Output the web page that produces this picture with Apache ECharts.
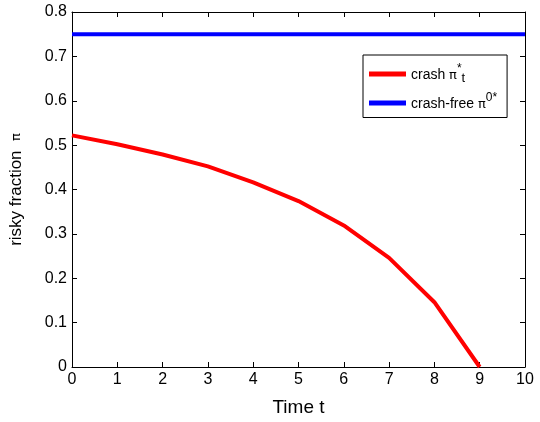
<!DOCTYPE html>
<html>
<head>
<meta charset="utf-8">
<script src="https://cdn.jsdelivr.net/npm/echarts@6/dist/echarts.min.js"></script>
<style>html,body{margin:0;padding:0;background:#fff}#c{width:540px;height:422px}</style>
</head>
<body>
<div id="c"></div>
<script>
var timeT = [0, 1, 2, 3, 4, 5, 6, 7, 8, 9];
var crashPi = [0.522, 0.502, 0.479, 0.452, 0.416, 0.374, 0.319, 0.246, 0.146, 0.0];
var freeT = [0, 10];
var freePi = [0.75, 0.75];
var seriesNames = ['crash', 'crash-free'];

var F = 'Liberation Sans, Arial, Helvetica, sans-serif';
var chart = echarts.init(document.getElementById('c'), null, {renderer: 'canvas'});

function pairs(xs, ys) { return xs.map(function (x, i) { return [x, ys[i]]; }); }

var axLine = {show: true, onZero: false, lineStyle: {color: '#000', width: 1}};
var tick = {show: true, inside: true, length: 5, lineStyle: {color: '#000', width: 1}};

chart.setOption({
  animation: false,
  backgroundColor: '#fff',
  grid: {left: 72, right: 15, top: 12, bottom: 52, containLabel: false},
  xAxis: [{
    type: 'value', min: 0, max: 10, interval: 1, position: 'bottom',
    name: 'Time t', nameLocation: 'middle', nameGap: 31,
    nameTextStyle: {fontFamily: F, fontSize: 19, color: '#000'},
    axisLine: axLine, axisTick: tick,
    axisLabel: {fontFamily: F, fontSize: 16, color: '#000', margin: 5},
    splitLine: {show: false}
  }, {
    type: 'value', min: 0, max: 10, interval: 1, position: 'top',
    axisLine: axLine, axisTick: tick, axisLabel: {show: false}, splitLine: {show: false}
  }],
  yAxis: [{
    type: 'value', min: 0, max: 0.8, interval: 0.1, position: 'left',
    name: '{n|risky fraction  }{p|π}', nameLocation: 'middle', nameGap: 47,
    nameTextStyle: {fontFamily: F, fontSize: 17, color: '#000',
      rich: {
        n: {fontFamily: F, fontSize: 17, color: '#000'},
        p: {fontFamily: 'DejaVu Sans, sans-serif', fontSize: 13, color: '#000'}
      }},
    axisLine: axLine, axisTick: tick,
    axisLabel: {fontFamily: F, fontSize: 16, color: '#000', margin: 5,
      formatter: function (v) { return v === 0 ? '0' : v.toFixed(1); }},
    splitLine: {show: false}
  }, {
    type: 'value', min: 0, max: 0.8, interval: 0.1, position: 'right',
    axisLine: axLine, axisTick: tick, axisLabel: {show: false}, splitLine: {show: false}
  }],
  legend: {
    orient: 'vertical', left: 363, top: 55, width: 152,
    backgroundColor: '#fff', borderColor: '#000', borderWidth: 1,
    padding: [8, 10, 6, 6], itemGap: 7, itemWidth: 37, itemHeight: 5,
    icon: 'rect',
    data: seriesNames,
    formatter: function (name) {
      if (name === 'crash') return '{t|crash }{p|π}{s|*}{b|t}';
      return '{t|crash-free }{p|π}{s|0*}';
    },
    textStyle: {
      fontFamily: F, fontSize: 14, color: '#000',
      rich: {
        t: {fontFamily: F, fontSize: 14, color: '#000', verticalAlign: 'middle', lineHeight: 22, padding: [3, 0, 0, 0]},
        p: {fontFamily: 'DejaVu Sans, sans-serif', fontSize: 13, color: '#000', verticalAlign: 'middle', lineHeight: 22, padding: [3, 0, 0, 0]},
        s: {fontFamily: F, fontSize: 12, color: '#000', verticalAlign: 'top', lineHeight: 12},
        b: {fontFamily: F, fontSize: 13, color: '#000', verticalAlign: 'bottom', lineHeight: 13}
      }
    }
  },
  series: [{
    name: 'crash', type: 'line', data: pairs(timeT, crashPi),
    showSymbol: false, symbol: 'none',
    lineStyle: {color: '#ff0000', width: 4}, itemStyle: {color: '#ff0000'}
  }, {
    name: 'crash-free', type: 'line', data: pairs(freeT, freePi),
    showSymbol: false, symbol: 'none',
    lineStyle: {color: '#0000ff', width: 4}, itemStyle: {color: '#0000ff'}
  }]
});
</script>
</body>
</html>
